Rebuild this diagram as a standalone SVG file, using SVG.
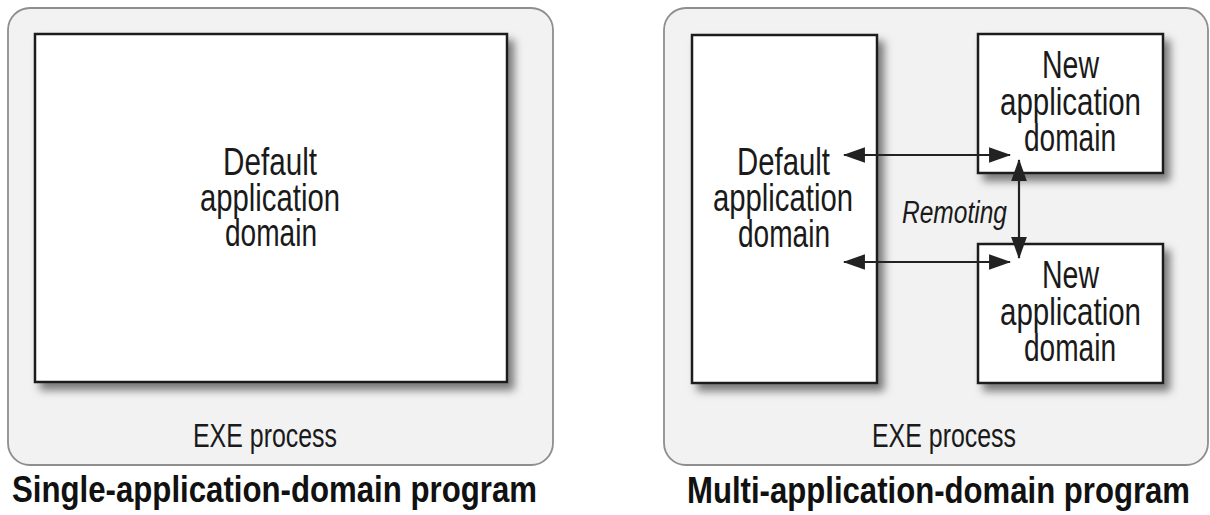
<svg xmlns="http://www.w3.org/2000/svg" width="1210" height="515" viewBox="0 0 1210 515">
  <style>
    .panel { fill: #f2f2f2; stroke: #8e8e8e; stroke-width: 1.8; }
    .box { fill: #ffffff; stroke: #1e1e1e; stroke-width: 2.5; filter: url(#shadow); }
    .lbl { font-family: "Liberation Sans", Arial, sans-serif; font-size: 38px; fill: #1a1a1a; }
    .exe { font-family: "Liberation Sans", Arial, sans-serif; font-size: 33px; fill: #1a1a1a; }
    .rem { font-family: "Liberation Sans", Arial, sans-serif; font-size: 31px; font-style: italic; fill: #1a1a1a; }
    .title { font-family: "Liberation Sans", Arial, sans-serif; font-size: 37px; font-weight: bold; fill: #111111; }
    .conn { stroke: #222222; stroke-width: 2.2; fill: none; marker-start: url(#arrow); marker-end: url(#arrow); }
  </style>
  <defs>
    <filter id="shadow" x="-10%" y="-10%" width="130%" height="130%">
      <feDropShadow dx="6" dy="7" stdDeviation="4.5" flood-color="#000000" flood-opacity="0.5"/>
    </filter>
    <marker id="arrow" markerUnits="userSpaceOnUse" markerWidth="22" markerHeight="16" viewBox="0 0 21 15" refX="20" refY="7.5" orient="auto-start-reverse">
      <path d="M0,0 L21,7.5 L0,15 Z" fill="#222222"/>
    </marker>
  </defs>

  <!-- Left panel -->
  <g id="single-panel">
    <rect class="panel" x="8" y="8" width="545" height="457" rx="22" ry="22"/>
    <text class="exe" x="193" y="447" textLength="144" lengthAdjust="spacingAndGlyphs">EXE process</text>
  </g>
  <g id="single-default-domain">
    <rect class="box" x="35" y="34" width="472" height="348"/>
    <text class="lbl" x="223" y="175" textLength="94" lengthAdjust="spacingAndGlyphs">Default</text>
    <text class="lbl" x="200" y="211" textLength="140" lengthAdjust="spacingAndGlyphs">application</text>
    <text class="lbl" x="225" y="246" textLength="92" lengthAdjust="spacingAndGlyphs">domain</text>
  </g>
  <g id="single-title">
    <text class="title" x="12" y="502" textLength="525" lengthAdjust="spacingAndGlyphs">Single-application-domain program</text>
  </g>

  <!-- Right panel -->
  <g id="multi-panel">
    <rect class="panel" x="664" y="8" width="544" height="457" rx="22" ry="22"/>
    <text class="exe" x="872" y="447" textLength="144" lengthAdjust="spacingAndGlyphs">EXE process</text>
  </g>
  <g id="multi-default-domain">
    <rect class="box" x="692" y="35" width="185" height="348"/>
    <text class="lbl" x="737" y="175" textLength="93" lengthAdjust="spacingAndGlyphs">Default</text>
    <text class="lbl" x="713" y="211" textLength="140" lengthAdjust="spacingAndGlyphs">application</text>
    <text class="lbl" x="738" y="247" textLength="92" lengthAdjust="spacingAndGlyphs">domain</text>
  </g>
  <g id="new-domain-1">
    <rect class="box" x="978" y="34" width="185" height="139"/>
    <text class="lbl" x="1042" y="78" textLength="57" lengthAdjust="spacingAndGlyphs">New</text>
    <text class="lbl" x="1000" y="115" textLength="141" lengthAdjust="spacingAndGlyphs">application</text>
    <text class="lbl" x="1024" y="151" textLength="92" lengthAdjust="spacingAndGlyphs">domain</text>
  </g>
  <g id="new-domain-2">
    <rect class="box" x="978" y="244" width="185" height="139"/>
    <text class="lbl" x="1042" y="288" textLength="57" lengthAdjust="spacingAndGlyphs">New</text>
    <text class="lbl" x="1000" y="325" textLength="141" lengthAdjust="spacingAndGlyphs">application</text>
    <text class="lbl" x="1024" y="361" textLength="92" lengthAdjust="spacingAndGlyphs">domain</text>
  </g>
  <g id="multi-title">
    <text class="title" x="687" y="503" textLength="503" lengthAdjust="spacingAndGlyphs">Multi-application-domain program</text>
  </g>

  <!-- Connectors -->
  <g id="connectors">
    <path class="conn" d="M844,155 H1010"/>
    <path class="conn" d="M844,262 H1010"/>
    <path class="conn" d="M1019,160 V258"/>
    <text class="rem" x="902" y="223" textLength="105" lengthAdjust="spacingAndGlyphs">Remoting</text>
  </g>
</svg>
